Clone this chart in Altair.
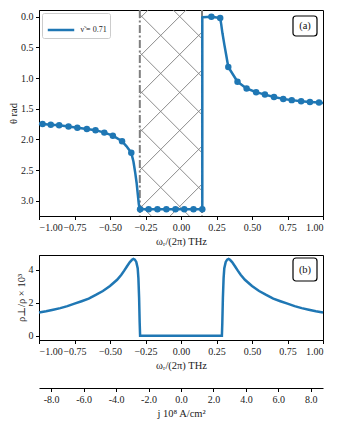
import altair as alt
import pandas as pd
import numpy as np

# ---------------- panel (a): theta vs omega_r ----------------
pt_x = [-0.975, -0.917, -0.858, -0.792, -0.73, -0.663, -0.602, -0.54, -0.48, -0.415, -0.35,
        -0.288, -0.228, -0.166, -0.103, -0.039, 0.023, 0.088, 0.150,
        0.214, 0.276, 0.333, 0.398, 0.462, 0.529, 0.591, 0.655, 0.72, 0.78, 0.846, 0.908, 0.972]
pt_theta = [1.75, 1.76, 1.77, 1.79, 1.81, 1.83, 1.85, 1.89, 1.94, 2.03, 2.22,
            3.14, 3.14, 3.14, 3.14, 3.14, 3.14, 3.14, 3.14,
            0.0, 0.02, 0.82, 1.06, 1.17, 1.23, 1.27, 1.31, 1.34, 1.36, 1.38, 1.39, 1.40]

line_x = [-1.0, -0.975, -0.917, -0.858, -0.792, -0.73, -0.663, -0.602, -0.54, -0.48, -0.415,
          -0.385, -0.35, -0.335, -0.322, -0.312, -0.304, -0.297, -0.291, -0.288,
          0.150, 0.150, 0.214, 0.276, 0.283, 0.292, 0.305, 0.318, 0.333,
          0.398, 0.462, 0.529, 0.591, 0.655, 0.72, 0.78, 0.846, 0.908, 0.972, 1.0]
line_theta = [1.74, 1.75, 1.76, 1.77, 1.79, 1.81, 1.83, 1.85, 1.89, 1.94, 2.03,
              2.11, 2.22, 2.36, 2.55, 2.72, 2.90, 3.06, 3.13, 3.14,
              3.14, 0.01, 0.0, 0.02, 0.12, 0.27, 0.45, 0.62, 0.82,
              1.06, 1.17, 1.23, 1.27, 1.31, 1.34, 1.36, 1.38, 1.39, 1.40, 1.405]

legend_label = "ν̃ = 0.71"
gap_edges = [-0.29, 0.148]

# ---------------- panel (b): rho_perp / rho ----------------
rho_x = [-1.0, -0.95, -0.9, -0.85, -0.8, -0.75, -0.7, -0.65, -0.6, -0.55, -0.5, -0.45,
         -0.42, -0.4, -0.38, -0.36, -0.345, -0.335, -0.325, -0.315, -0.305, -0.3, -0.295,
         -0.291, -0.288,
         0.288, 0.291, 0.295, 0.3, 0.305, 0.315, 0.325, 0.335, 0.345, 0.36, 0.38, 0.4,
         0.42, 0.45, 0.5, 0.55, 0.6, 0.65, 0.7, 0.75, 0.8, 0.85, 0.9, 0.95, 1.0]
rho_val = [1.41, 1.49, 1.58, 1.68, 1.80, 1.95, 2.10, 2.26, 2.48, 2.72, 3.02, 3.40,
           3.70, 3.95, 4.22, 4.47, 4.61, 4.66, 4.62, 4.48, 4.10, 3.50, 2.30,
           0.80, 0.0,
           0.0, 0.80, 2.30, 3.50, 4.10, 4.48, 4.62, 4.66, 4.61, 4.47, 4.22, 3.95,
           3.70, 3.40, 3.02, 2.72, 2.48, 2.26, 2.10, 1.95, 1.80, 1.68, 1.58, 1.49, 1.41]

# ---------------- current density axis ----------------
j_ticks = [-8.0, -6.0, -4.0, -2.0, 0.0, 2.0, 4.0, 6.0, 8.0]
j_domain = [-8.75, 8.75]

BLUE = "#1f77b4"
GRAY = "#7f7f7f"
FONT = "Liberation Serif, DejaVu Serif, serif"
W = 284
H1 = 206
H2 = 85
H3 = 10
Y1_DOM = [-0.11, 3.25]
Y2_DOM = [-0.25, 4.9]
x_ticks = [-1.0, -0.75, -0.5, -0.25, 0.0, 0.25, 0.5, 0.75, 1.0]

xscale = alt.Scale(domain=[-1, 1], nice=False, zero=False)
y1scale = alt.Scale(domain=Y1_DOM, reverse=True, nice=False, zero=False)
y2scale = alt.Scale(domain=Y2_DOM, nice=False, zero=False)

xaxis = alt.Axis(values=x_ticks, format=".2f", title="ωᵣ/(2π) THz")
y1axis = alt.Axis(values=[0, 0.5, 1.0, 1.5, 2.0, 2.5, 3.0], format=".1f", title="θ rad")

X1 = alt.X("x:Q", scale=xscale, axis=xaxis)

# 45-degree cross hatch (pixel space) inside the gap
px_per_x = W / 2.0
px_per_y = H1 / (Y1_DOM[1] - Y1_DOM[0])
k = px_per_x / px_per_y
period = 38 / px_per_y
xc, thc = -0.143, 0.305
segs = []
for sgn in (1, -1):
    for n in range(-15, 16):
        c = thc + n * period
        xa = xc + (Y1_DOM[0] - c) / (sgn * k)
        xb = xc + (Y1_DOM[1] - c) / (sgn * k)
        lo = max(gap_edges[0], min(xa, xb))
        hi = min(gap_edges[1] - 0.003, max(xa, xb))
        if lo < hi:
            segs.append({"x": lo, "t": c + sgn * k * (lo - xc),
                         "x2": hi, "t2": c + sgn * k * (hi - xc)})
hatch_df = pd.DataFrame(segs)

hatch = alt.Chart(hatch_df).mark_rule(color=GRAY, strokeWidth=0.9).encode(
    x=X1, y=alt.Y("t:Q", scale=y1scale, axis=y1axis), x2="x2:Q", y2="t2:Q")

edges = alt.Chart(pd.DataFrame({"x": gap_edges})).mark_rule(
    color=GRAY, strokeWidth=2, strokeDash=[8, 2.5, 2, 2.5]).encode(x=X1)

line_df = pd.DataFrame({"x": line_x, "t": line_theta, "i": range(len(line_x)),
                        "s": [legend_label] * len(line_x)})
line = alt.Chart(line_df).mark_line(strokeWidth=2.5, strokeJoin="round").encode(
    x=X1,
    y=alt.Y("t:Q", scale=y1scale, axis=y1axis),
    order="i:Q",
    color=alt.Color("s:N", scale=alt.Scale(range=[BLUE]),
                    legend=alt.Legend(orient="top-left", title=None, symbolType="stroke",
                                      symbolStrokeWidth=2.5, symbolSize=700,
                                      labelFont=FONT, labelFontSize=8, labelColor="#222",
                                      strokeColor="#cccccc", fillColor="white",
                                      padding=2.5, cornerRadius=2, offset=3,
                                      symbolOffset=2, labelOffset=5)))

pts = alt.Chart(pd.DataFrame({"x": pt_x, "t": pt_theta})).mark_circle(
    size=42, color=BLUE, opacity=1).encode(
    x=X1, y=alt.Y("t:Q", scale=y1scale, axis=y1axis))

dummy = pd.DataFrame({"a": [0]})

def tag(label, y0, y1):
    box = alt.Chart(dummy).mark_rect(fill="white", stroke="black", strokeWidth=1.2,
                                     cornerRadius=3).encode(
        x=alt.value(W - 30), x2=alt.value(W - 6), y=alt.value(y0), y2=alt.value(y1))
    txt = alt.Chart(dummy).mark_text(font=FONT, fontSize=10.5, color="#111",
                                     baseline="middle", align="center").encode(
        x=alt.value(W - 18), y=alt.value((y0 + y1) / 2.0), text=alt.value(label))
    return box + txt

top = alt.layer(hatch, edges, line, pts, tag("(a)", 6, 26)).properties(width=W, height=H1)

rho_df = pd.DataFrame({"x": rho_x, "r": rho_val, "i": range(len(rho_x))})
bot = alt.layer(
    alt.Chart(rho_df).mark_line(color=BLUE, strokeWidth=2.5).encode(
        x=X1,
        y=alt.Y("r:Q", scale=y2scale,
                axis=alt.Axis(values=[0, 2, 4], format="d", title="ρ⊥/ρ × 10³")),
        order="i:Q"),
    tag("(b)", 3, 26)
).properties(width=W, height=H2)

jaxis = alt.Chart(pd.DataFrame({"j": j_ticks})).mark_point(opacity=0).encode(
    x=alt.X("j:Q", scale=alt.Scale(domain=j_domain, nice=False, zero=False),
            axis=alt.Axis(values=j_ticks, title="j 10⁸ A/cm²", titlePadding=4,
                          labelExpr="datum.value < 0 ? '-' + format(-datum.value, '.1f') : format(datum.value, '.1f')"))
).properties(width=W, height=H3, view=alt.ViewBackground(stroke="transparent"))

chart = alt.vconcat(top, bot, jaxis, spacing=6).properties(
    padding={"left": 0, "top": 0, "right": 0, "bottom": 0}
).configure_view(stroke="black", strokeWidth=1).configure_axis(
    labelFont=FONT, labelFontSize=10, labelColor="#222",
    titleFont=FONT, titleFontSize=10.5, titleFontWeight="normal", titleColor="#222",
    tickSize=3.5, tickColor="black", domainColor="black", grid=False,
    labelPadding=2.5, labelOverlap=False
).configure_axisX(titlePadding=4).configure_axisY(titlePadding=2)

chart.save("out.html", embed_options={"renderer": "svg", "actions": False})
